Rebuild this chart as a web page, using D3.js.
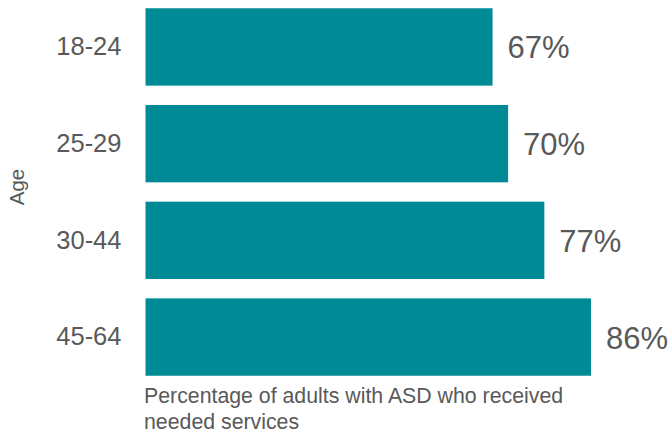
<!DOCTYPE html>
<html>
<head>
<meta charset="utf-8">
<script src="https://cdn.jsdelivr.net/npm/d3@7"></script>
<style>
  html, body { margin: 0; padding: 0; background: #fff; }
  svg { display: block; }
  text { font-family: "Liberation Sans", Arial, sans-serif; fill: #595959; }
</style>
</head>
<body>
<div id="chart"></div>
<script>
const categories = ["18-24", "25-29", "30-44", "45-64"];
const values = [67, 70, 77, 86];
const valueLabels = ["67%", "70%", "77%", "86%"];
const axisTitleLines = ["Percentage of adults with ASD who received", "needed services"];
const yTitle = "Age";

const W = 670, H = 435;
const svg = d3.select("#chart").append("svg").attr("width", W).attr("height", H);

const x = d3.scaleLinear().domain([0, 100]).range([145.5, 663.5]);
const y = d3.scaleBand().domain(categories).range([-1.4, 385.4]).paddingInner(0.2).paddingOuter(0.1);

const data = categories.map((c, i) => ({ c, v: values[i], label: valueLabels[i] }));

svg.selectAll("rect.bar").data(data).enter().append("rect")
  .attr("class", "bar")
  .attr("x", x(0))
  .attr("y", d => y(d.c))
  .attr("width", d => x(d.v) - x(0))
  .attr("height", y.bandwidth())
  .attr("fill", "#008a96");

svg.selectAll("text.val").data(data).enter().append("text")
  .attr("class", "val")
  .attr("x", d => x(d.v) + 15)
  .attr("y", d => y(d.c) + y.bandwidth() / 2 + 11.5)
  .attr("font-size", 31)
  .text(d => d.label);

// category axis
const yAxis = d3.axisLeft(y).tickSize(0).tickPadding(24);
const ga = svg.append("g").attr("transform", `translate(${x(0)},0)`).call(yAxis);
ga.select(".domain").remove();
ga.selectAll("text")
  .attr("font-size", 25.5)
  .attr("font-family", "'Liberation Sans', Arial, sans-serif")
  .attr("fill", "#595959")
  .attr("dy", "0.32em");

// y title
svg.append("text")
  .attr("transform", "translate(24,187) rotate(-90)")
  .attr("text-anchor", "middle")
  .attr("font-size", 20.5)
  .text(yTitle);

// x title
const xt = svg.append("text").attr("x", 144).attr("y", 402.5).attr("font-size", 21.3);
axisTitleLines.forEach((t, i) => {
  xt.append("tspan").attr("x", 144).attr("dy", i === 0 ? 0 : 26.6).text(t);
});
</script>
</body>
</html>
